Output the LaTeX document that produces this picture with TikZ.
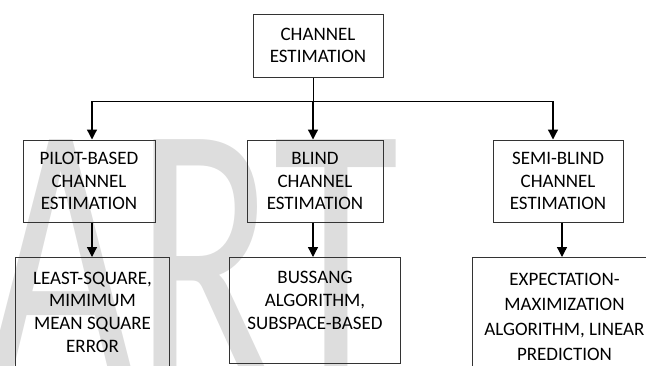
\documentclass[tikz,border=0pt]{standalone}
\usepackage{fontspec}
\setmainfont{Carlito}
\usetikzlibrary{arrows.meta}
\definecolor{wmgray}{RGB}{221,221,221}
\tikzset{
	blk/.style={draw=black!80, line width=1pt, inner sep=0pt, align=center, font=\fontsize{19}{22.7}\selectfont},
	lbl/.style={align=center, inner sep=0pt, font=\fontsize{19}{22.7}\selectfont},
	arr/.style={-{Triangle[length=10pt,width=10pt]}, line width=1.3pt},
}
\begin{document}
\begin{tikzpicture}[x=1pt,y=-1pt]
	\useasboundingbox (0,0) rectangle (646,365);
	\begin{scope}[shift={(-14,381)}]
		\node[anchor=base west, inner sep=0pt, xscale=0.684, transform shape, text=wmgray, font=\fontsize{377}{377}\selectfont] (wm) at (0,0) {ART};
	\end{scope}
	
	\node[blk, minimum width=130pt, minimum height=63pt] (root) at (318,45.5) {CHANNEL\\ESTIMATION};
	\node[blk, minimum width=132pt, minimum height=82pt] (pilot) at (89,181) {PILOT-BASED\\CHANNEL\\ESTIMATION};
	\node[blk, minimum width=136pt, minimum height=82pt] (blind) at (315,181) {BLIND\\CHANNEL\\ESTIMATION};
	\node[blk, minimum width=130pt, minimum height=82pt] (semi) at (558,181) {SEMI-BLIND\\CHANNEL\\ESTIMATION};
	
	\node[blk, anchor=north west, minimum width=154pt, minimum height=130pt, label={[lbl, yshift=10.5pt]center:{LEAST-SQUARE,\\MIMIMUM\\MEAN SQUARE\\ERROR}}] (least) at (15,257) {};
	\node[blk, anchor=north west, minimum width=171pt, minimum height=106pt, label={[lbl, yshift=10pt]center:{BUSSANG\\ALGORITHM,\\SUBSPACE-BASED}}] (bussang) at (229,257) {};
	\node[blk, anchor=north west, minimum width=200pt, minimum height=130pt, label={[lbl, font=\fontsize{19}{25}\selectfont, xshift=-8pt, yshift=6pt]center:{EXPECTATION-\\MAXIMIZATION\\ALGORITHM, LINEAR\\PREDICTION}}] (em) at (472,257) {};
	
	\coordinate (busl) at (92,101);
	\coordinate (busm) at (313,101);
	\coordinate (busr) at (553,101);
	\draw[line width=1pt] (root.south -| busm) -- (busm);
	\draw[line width=1pt] (busl) -- (busr);
	\draw[arr] (busl) -- (busl |- pilot.north);
	\draw[arr] (busm) -- (busm |- blind.north);
	\draw[arr] (busr) -- (busr |- semi.north);
	
	\draw[arr] (pilot.south -| busl) -- (busl |- least.north);
	\draw[arr] (blind.south -| busm) -- (busm |- bussang.north);
	\draw[arr] ([xshift=4pt]semi.south) -- ([xshift=4pt]semi.south |- em.north);
\end{tikzpicture}
\end{document}
